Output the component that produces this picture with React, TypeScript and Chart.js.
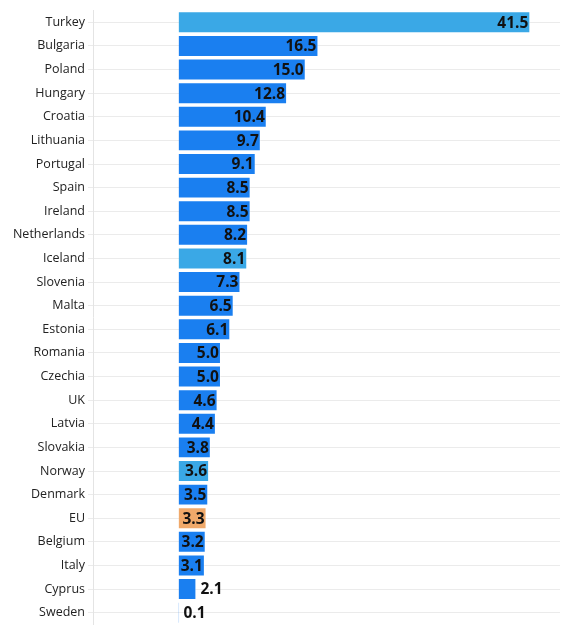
import { useEffect, useRef } from "react";
import { Chart, registerables } from "chart.js";
Chart.register(...registerables);

const countries = [
    "Turkey", "Bulgaria", "Poland", "Hungary", "Croatia", "Lithuania", "Portugal", "Spain", "Ireland",
    "Netherlands", "Iceland", "Slovenia", "Malta", "Estonia", "Romania", "Czechia", "UK", "Latvia",
    "Slovakia", "Norway", "Denmark", "EU", "Belgium", "Italy", "Cyprus", "Sweden",
];
const values = [
    41.5, 16.5, 15.0, 12.8, 10.4, 9.7, 9.1, 8.5, 8.5,
    8.2, 8.1, 7.3, 6.5, 6.1, 5.0, 5.0, 4.6, 4.4,
    3.8, 3.6, 3.5, 3.3, 3.2, 3.1, 2.1, 0.1,
];
const nonEu = ["Turkey", "Iceland", "Norway"];
const euAverage = "EU";

const BLUE = "#1a7ff0";
const LIGHT_BLUE = "#3aa8e6";
const ORANGE = "#f0a96a";

// draws the value at the end of each bar (inside if it fits, else outside)
const valueLabels = {
    id: "valueLabels",
    afterDatasetsDraw(chart: Chart) {
        const ctx = chart.ctx;
        const meta = chart.getDatasetMeta(0);
        ctx.save();
        ctx.font = "bold 15.5px 'Open Sans'";
        ctx.fillStyle = "#111";
        ctx.textBaseline = "middle";
        meta.data.forEach((bar: any, i: number) => {
            const text = values[i].toFixed(1);
            const w = ctx.measureText(text).width;
            const barWidth = bar.x - bar.base;
            if (barWidth >= w * 0.95) {
                ctx.textAlign = "right";
                ctx.fillText(text, bar.x - 2, bar.y + 1);
            } else {
                ctx.textAlign = "left";
                ctx.fillText(text, bar.x + 4, bar.y + 1);
            }
        });
        ctx.restore();
    },
};

const App = () => {
    const chartRef = useRef<HTMLCanvasElement | null>(null);
    const chartInstance = useRef<Chart | null>(null);

    useEffect(() => {
        if (!chartRef.current) return;
        const ctx = chartRef.current.getContext("2d");
        if (!ctx) return;

        if (chartInstance.current) chartInstance.current.destroy();

        const colors = countries.map((c) =>
            c === euAverage ? ORANGE : nonEu.includes(c) ? LIGHT_BLUE : BLUE
        );

        chartInstance.current = new Chart(ctx, {
            type: "bar",
            data: {
                labels: countries,
                datasets: [
                    {
                        data: values,
                        backgroundColor: colors,
                        borderColor: "rgba(255,255,255,0.45)",
                        borderWidth: 1,
                        barPercentage: 0.93,
                        categoryPercentage: 1,
                    },
                ],
            },
            options: {
                indexAxis: "y",
                animation: false,
                responsive: false,
                layout: { padding: { top: 0, right: 19, bottom: 0, left: 0 } },
                plugins: {
                    legend: { display: false },
                    tooltip: { enabled: false },
                },
                scales: {
                    x: {
                        display: false,
                        min: -10.1,
                        max: 45,
                    },
                    y: {
                        afterFit: (scale: any) => {
                            scale.width = 93;
                        },
                        ticks: {
                            color: "#222",
                            padding: 3,
                            font: { family: "'Open Sans'", size: 12.5 },
                        },
                        grid: {
                            color: "#ebebeb",
                            tickLength: 5,
                            offset: false,
                        },
                        border: { color: "#e4e4e4" },
                    },
                },
            },
            plugins: [valueLabels],
        });

        return () => {
            if (chartInstance.current) {
                chartInstance.current.destroy();
                chartInstance.current = null;
            }
        };
    }, []);

    return (
        <div style={{ position: "absolute", left: 0, top: 0, width: 579, height: 627, overflow: "hidden", background: "#fff" }}>
            <canvas ref={chartRef} width={579} height={635}></canvas>
        </div>
    );
};

export default App;
